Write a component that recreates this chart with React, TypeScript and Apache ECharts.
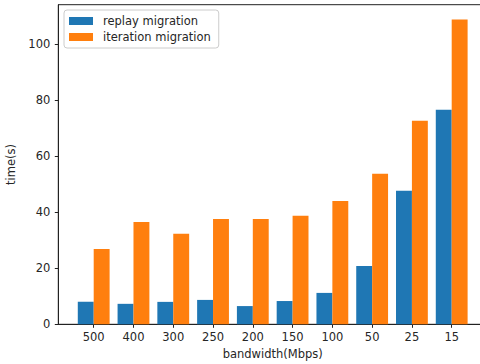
import React, { useEffect, useRef } from "react";
import * as echarts from "echarts";

const categories = ["500", "400", "300", "250", "200", "150", "100", "50", "25", "15"];
const replayMigration = [8.0, 7.3, 8.0, 8.7, 6.5, 8.3, 11.2, 20.8, 47.6, 76.5];
const iterationMigration = [26.9, 36.5, 32.3, 37.6, 37.6, 38.7, 44.0, 53.7, 72.6, 108.7];
const yTicks = [0, 20, 40, 60, 80, 100];
const seriesNames = ["replay migration", "iteration migration"];

const FONT = "DejaVu Sans";
const TEXT = "#262626";
const BAR_W = 0.4;

function barSeries(name: string, values: number[], offset: number, color: string) {
  return {
    type: "custom",
    name,
    data: values.map((v, i) => [i, v]),
    encode: { x: 0, y: 1 },
    itemStyle: { color },
    renderItem: (params: any, api: any) => {
      const i = api.value(0);
      const v = api.value(1);
      const x0 = i + offset;
      const p0 = api.coord([x0, v]);
      const p1 = api.coord([x0 + BAR_W, 0]);
      return {
        type: "rect",
        shape: { x: p0[0], y: p0[1], width: p1[0] - p0[0], height: p1[1] - p0[1] },
        style: { fill: color },
      };
    },
  };
}

export default function App() {
  const ref = useRef<HTMLDivElement>(null);
  useEffect(() => {
    if (!ref.current) return;
    const chart = echarts.init(ref.current, null, { renderer: "svg" });
    const tickIdx = categories.map((_, i) => i);
    chart.setOption({
      animation: false,
      textStyle: { fontFamily: FONT, color: TEXT },
      legend: {
        data: seriesNames.map((n) => ({ name: n, icon: "rect" })),
        orient: "vertical",
        left: 64,
        top: 10,
        itemWidth: 24,
        itemHeight: 8,
        itemGap: 4,
        padding: [5, 8, 5, 5],
        borderColor: "#cccccc",
        borderWidth: 1,
        borderRadius: 3,
        backgroundColor: "rgba(255,255,255,0.8)",
        textStyle: { fontFamily: FONT, fontSize: 11.5, color: TEXT, padding: [0, 0, 0, 5] },
      },
      grid: {
        left: 58.3,
        top: 4.7,
        right: -7.1,
        bottom: 39.7,
        show: true,
        borderColor: "#222",
        borderWidth: 1,
        outerBoundsMode: "none",
        containLabel: false,
      },
      xAxis: {
        type: "value",
        min: -0.89,
        max: 9.89,
        name: "bandwidth(Mbps)",
        nameLocation: "middle",
        nameGap: 22,
        nameTextStyle: { fontFamily: FONT, fontSize: 11.5, color: TEXT },
        axisLine: { show: true, onZero: false, lineStyle: { color: "#222", width: 1 } },
        axisTick: { show: true, length: 3.5, lineStyle: { color: "#222" }, customValues: tickIdx },
        axisLabel: {
          customValues: tickIdx,
          formatter: (v: number) => categories[Math.round(v)],
          fontFamily: FONT,
          fontSize: 11.5,
          color: TEXT,
          margin: 7,
        },
        splitLine: { show: false },
      },
      yAxis: {
        type: "value",
        min: 0,
        max: 114,
        name: "time(s)",
        nameLocation: "middle",
        nameGap: 32,
        nameTextStyle: { fontFamily: FONT, fontSize: 11.5, color: TEXT },
        axisLine: { show: true, onZero: false, lineStyle: { color: "#222", width: 1 } },
        axisTick: { show: true, length: 3.5, lineStyle: { color: "#222" }, customValues: yTicks },
        axisLabel: {
          customValues: yTicks,
          fontFamily: FONT,
          fontSize: 11.5,
          color: TEXT,
          margin: 8,
        },
        splitLine: { show: false },
      },
      series: [
        barSeries(seriesNames[0], replayMigration, -BAR_W, "#1f77b4"),
        barSeries(seriesNames[1], iterationMigration, 0, "#ff7f0e"),
      ],
    });
    return () => chart.dispose();
  }, []);
  return <div ref={ref} style={{ width: 480, height: 364, position: "absolute", left: 0, top: 0 }} />;
}
